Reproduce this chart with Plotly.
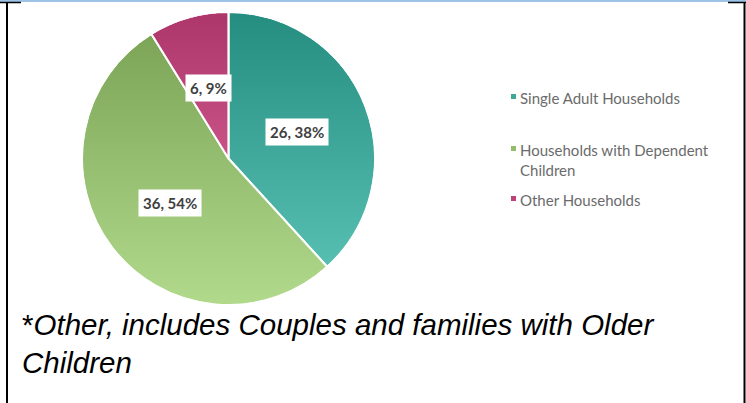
import plotly.graph_objects as go
import math
import zlib
import struct
import base64

# ---- data ----
categories = ["Single Adult Households", "Households with Dependent Children", "Other Households"]
legend_labels = ["Single Adult Households", "Households with Dependent<br>Children", "Other Households"]
values = [26, 36, 6]
percent_labels = [38, 54, 9]
# slice colours (semi-transparent over a soft vertical shading layer to mimic the gradient fill)
slice_colors = ["rgba(41,189,169,0.7)", "rgba(160,217,105,0.7)", "rgba(233,66,139,0.7)"]
legend_colors = ["#40a898", "#95bc6a", "#bd4277"]
footnote = "*<i>Other, includes Couples and families with Older<br>Children</i>"

W, H = 746, 403


def px(x):
    return x / W


def py(y):
    return 1 - y / H


# pie geometry (pixels)
CX, CY, R = 228.5, 158.5, 146.5


def shading_png(size):
    """Vertical dark-to-light shading disc, used as a backdrop under the pie."""
    rows = []
    c = (size - 1) / 2
    rad = size / 2 - 1.0
    for y in range(size):
        g = int(30 + 190 * y / (size - 1))
        row = bytearray(b"\x00")
        for x in range(size):
            d = math.hypot(x - c, y - c)
            a = 255 if d <= rad else 0
            row += bytes((g, g, g, a))
        rows.append(bytes(row))
    raw = b"".join(rows)

    def chunk(tag, data):
        return struct.pack(">I", len(data)) + tag + data + struct.pack(">I", zlib.crc32(tag + data) & 0xFFFFFFFF)

    png = b"\x89PNG\r\n\x1a\n"
    png += chunk(b"IHDR", struct.pack(">IIBBBBB", size, size, 8, 6, 0, 0, 0))
    png += chunk(b"IDAT", zlib.compress(raw, 9))
    png += chunk(b"IEND", b"")
    return "data:image/png;base64," + base64.b64encode(png).decode()


fig = go.Figure()
fig.add_trace(go.Pie(
    labels=categories,
    values=values,
    sort=False,
    direction="clockwise",
    rotation=0,
    marker=dict(colors=slice_colors, line=dict(color="white", width=2)),
    textinfo="none",
    showlegend=False,
    domain=dict(x=[px(CX - R), px(CX + R)], y=[py(CY + R), py(CY - R)]),
))

annotations = []
# data labels with white boxes
total = sum(values)
cum = 0
for v, p in zip(values, percent_labels):
    theta = 2 * math.pi * (cum + v / 2) / total
    cum += v
    lx = CX + 0.5 * R * math.sin(theta)
    ly = CY - 0.5 * R * math.cos(theta)
    annotations.append(dict(
        x=px(lx), y=py(ly), xref="paper", yref="paper",
        text=f"{v}, {p}%", showarrow=False,
        font=dict(family="Lato", size=15, color="#404040", weight="bold"),
        bgcolor="white", borderpad=4, xanchor="center", yanchor="middle",
    ))

# manual legend
legend_y = [96, 148, 198]
for lab, yy in zip(legend_labels, legend_y):
    annotations.append(dict(
        x=px(519), y=py(yy - 8), xref="paper", yref="paper",
        text=lab, showarrow=False, align="left",
        font=dict(family="Lato", size=15, color="#6b6b6b"),
        xanchor="left", yanchor="top", borderpad=0,
    ))

# footnote
annotations.append(dict(
    x=px(20), y=py(343), xref="paper", yref="paper",
    text=footnote, showarrow=False, align="left",
    font=dict(family="Liberation Sans", size=29.5, color="black"),
    xanchor="left", yanchor="middle",
))

shapes = []
# legend squares
for col, yy in zip(legend_colors, legend_y):
    shapes.append(dict(type="rect", xref="paper", yref="paper",
                       x0=px(511), x1=px(516), y0=py(yy + 3), y1=py(yy - 2),
                       fillcolor=col, line=dict(width=0)))
# frame
shapes += [
    dict(type="rect", xref="paper", yref="paper", x0=0, x1=1, y0=py(2), y1=1,
         fillcolor="#9dc3e6", line=dict(width=0)),
    dict(type="line", xref="paper", yref="paper", x0=0, x1=px(21), y0=py(2.5), y1=py(2.5),
         line=dict(color="black", width=1.5)),
    dict(type="line", xref="paper", yref="paper", x0=px(728), x1=1, y0=py(2.5), y1=py(2.5),
         line=dict(color="black", width=1.5)),
    dict(type="line", xref="paper", yref="paper", x0=px(7), x1=px(7), y0=0, y1=py(2),
         line=dict(color="black", width=2)),
    dict(type="line", xref="paper", yref="paper", x0=px(744.5), x1=px(744.5), y0=0, y1=py(2),
         line=dict(color="black", width=2)),
]

images = [dict(
    source=shading_png(293), xref="paper", yref="paper",
    x=px(CX - R), y=py(CY - R), sizex=px(2 * R), sizey=2 * R / H,
    xanchor="left", yanchor="top", sizing="stretch", layer="below",
)]

fig.update_layout(
    width=W, height=H,
    margin=dict(l=0, r=0, t=0, b=0),
    paper_bgcolor="rgba(0,0,0,0)", plot_bgcolor="rgba(0,0,0,0)",
    annotations=annotations, shapes=shapes, images=images,
    showlegend=False,
)

fig.write_html(
    "out.html",
    config={"displayModeBar": False},
    post_script="document.body.style.margin='0';document.body.style.background='white';document.body.style.overflow='hidden';",
)
